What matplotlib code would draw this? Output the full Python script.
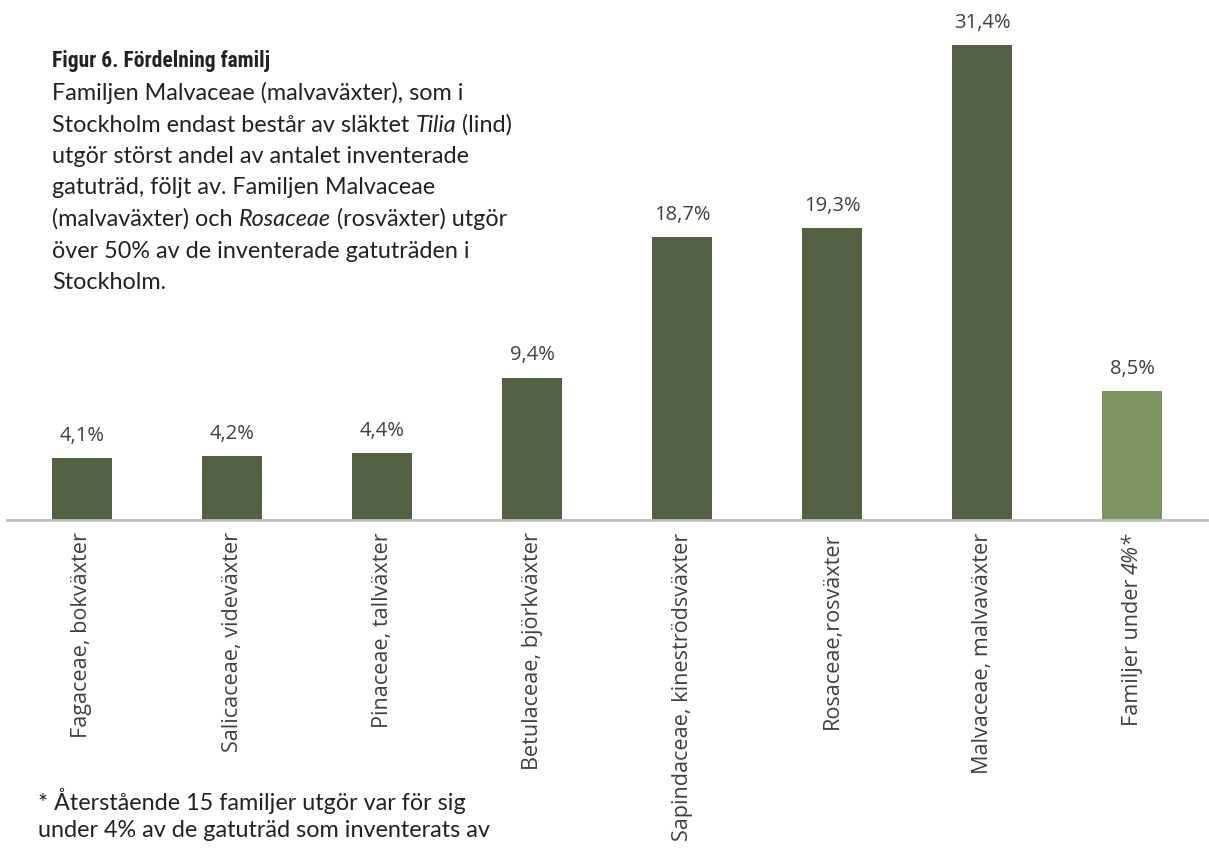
import matplotlib
matplotlib.use("Agg")
import matplotlib.pyplot as plt

categories = ["Fagaceae, bokväxter", "Salicaceae, videväxter", "Pinaceae, tallväxter",
              "Betulaceae, björkväxter", "Sapindaceae, kineströdsväxter", "Rosaceae,rosväxter",
              "Malvaceae, malvaväxter", "Familjer under 4%*"]
values = [4.1, 4.2, 4.4, 9.4, 18.7, 19.3, 31.4, 8.5]
value_labels = ["4,1%", "4,2%", "4,4%", "9,4%", "18,7%", "19,3%", "31,4%", "8,5%"]

title = "Figur 6. Fördelning familj"
body_lines = [
    [("Familjen Malvaceae (malvaväxter), som i", False)],
    [("Stockholm endast består av släktet ", False), ("Tilia", True), (" (lind)", False)],
    [("utgör störst andel av antalet inventerade", False)],
    [("gatuträd, följt av. Familjen Malvaceae", False)],
    [("(malvaväxter) och ", False), ("Rosaceae", True), (" (rosväxter) utgör", False)],
    [("över 50% av de inventerade gatuträden i", False)],
    [("Stockholm.", False)],
]
footnote_lines = ["* Återstående 15 familjer utgör var för sig",
                  "under 4% av de gatuträd som inventerats av"]

DARK = "#536142"
LIGHT = "#7b9462"
colors = [DARK] * 7 + [LIGHT]
TXT = "#404040"

W, H = 1209, 848
fig = plt.figure(figsize=(W / 100, H / 100), dpi=100)
ax = fig.add_axes([7 / W, 1 - 520 / H, 1200 / W, 499 / H])
x = list(range(len(categories)))
ax.bar(x, values, width=0.4, color=colors, zorder=2)
ax.set_xlim(-0.5, len(categories) - 0.5)
ax.set_ylim(0, 33)
for s in ["top", "right", "left"]:
    ax.spines[s].set_visible(False)
ax.spines["bottom"].set_color("#bfbfbf")
ax.spines["bottom"].set_linewidth(2)
ax.set_yticks([])
ax.set_xticks(x)
ax.set_xticklabels([""] * len(x))
ax.tick_params(axis="x", length=0)

LBLFONT = ["Open Sans", "DejaVu Sans"]
for i, (v, lab) in enumerate(zip(values, value_labels)):
    ax.annotate(lab, xy=(i, v), xytext=(0, 9), textcoords="offset points",
                ha="center", va="bottom", fontsize=14.5, color=TXT, family=LBLFONT)

fig.canvas.draw()
renderer = fig.canvas.get_renderer()

LSIZE = 15.6
OFF = -9
# category labels (rotated)
for i, cat in enumerate(categories):
    if cat.endswith("4%*"):
        it = ax.annotate("4%*", xy=(i, 0), xycoords=("data", "axes fraction"),
                         xytext=(0, OFF), textcoords="offset points", rotation=90,
                         ha="center", va="top", fontsize=LSIZE, color=TXT,
                         family=LBLFONT, style="italic")
        h = it.get_window_extent(renderer).height
        ax.annotate("Familjer under ", xy=(i, 0), xycoords=("data", "axes fraction"),
                    xytext=(0, OFF - h * 72 / 100), textcoords="offset points", rotation=90,
                    ha="center", va="top", fontsize=LSIZE, color=TXT, family=LBLFONT)
    else:
        ax.annotate(cat, xy=(i, 0), xycoords=("data", "axes fraction"),
                    xytext=(0, OFF), textcoords="offset points", rotation=90,
                    ha="center", va="top", fontsize=LSIZE, color=TXT, family=LBLFONT)

# title
fig.text(52 / W, 1 - 67 / H, title, fontsize=15.5, fontweight="bold", fontstretch="condensed",
         family=["Liberation Sans Narrow", "DejaVu Sans Condensed", "Roboto Condensed",
                 "Open Sans Condensed", "Noto Sans", "DejaVu Sans"],
         color="#222222", va="baseline")

BODYFONT = ["Lato", "DejaVu Sans"]
y0 = 100
for k, segs in enumerate(body_lines):
    xp = 52
    yb = y0 + k * 31.5
    for txt, ital in segs:
        t = fig.text(xp / W, 1 - yb / H, txt, fontsize=16.8, family=BODYFONT,
                     style="italic" if ital else "normal", color="#222222", va="baseline")
        xp += t.get_window_extent(renderer).width

for k, line in enumerate(footnote_lines):
    fig.text(38 / W, 1 - (810 + k * 27) / H, line, fontsize=16.8, family=BODYFONT,
             color="#222222", va="baseline")

fig.savefig("out.png", dpi=100)
